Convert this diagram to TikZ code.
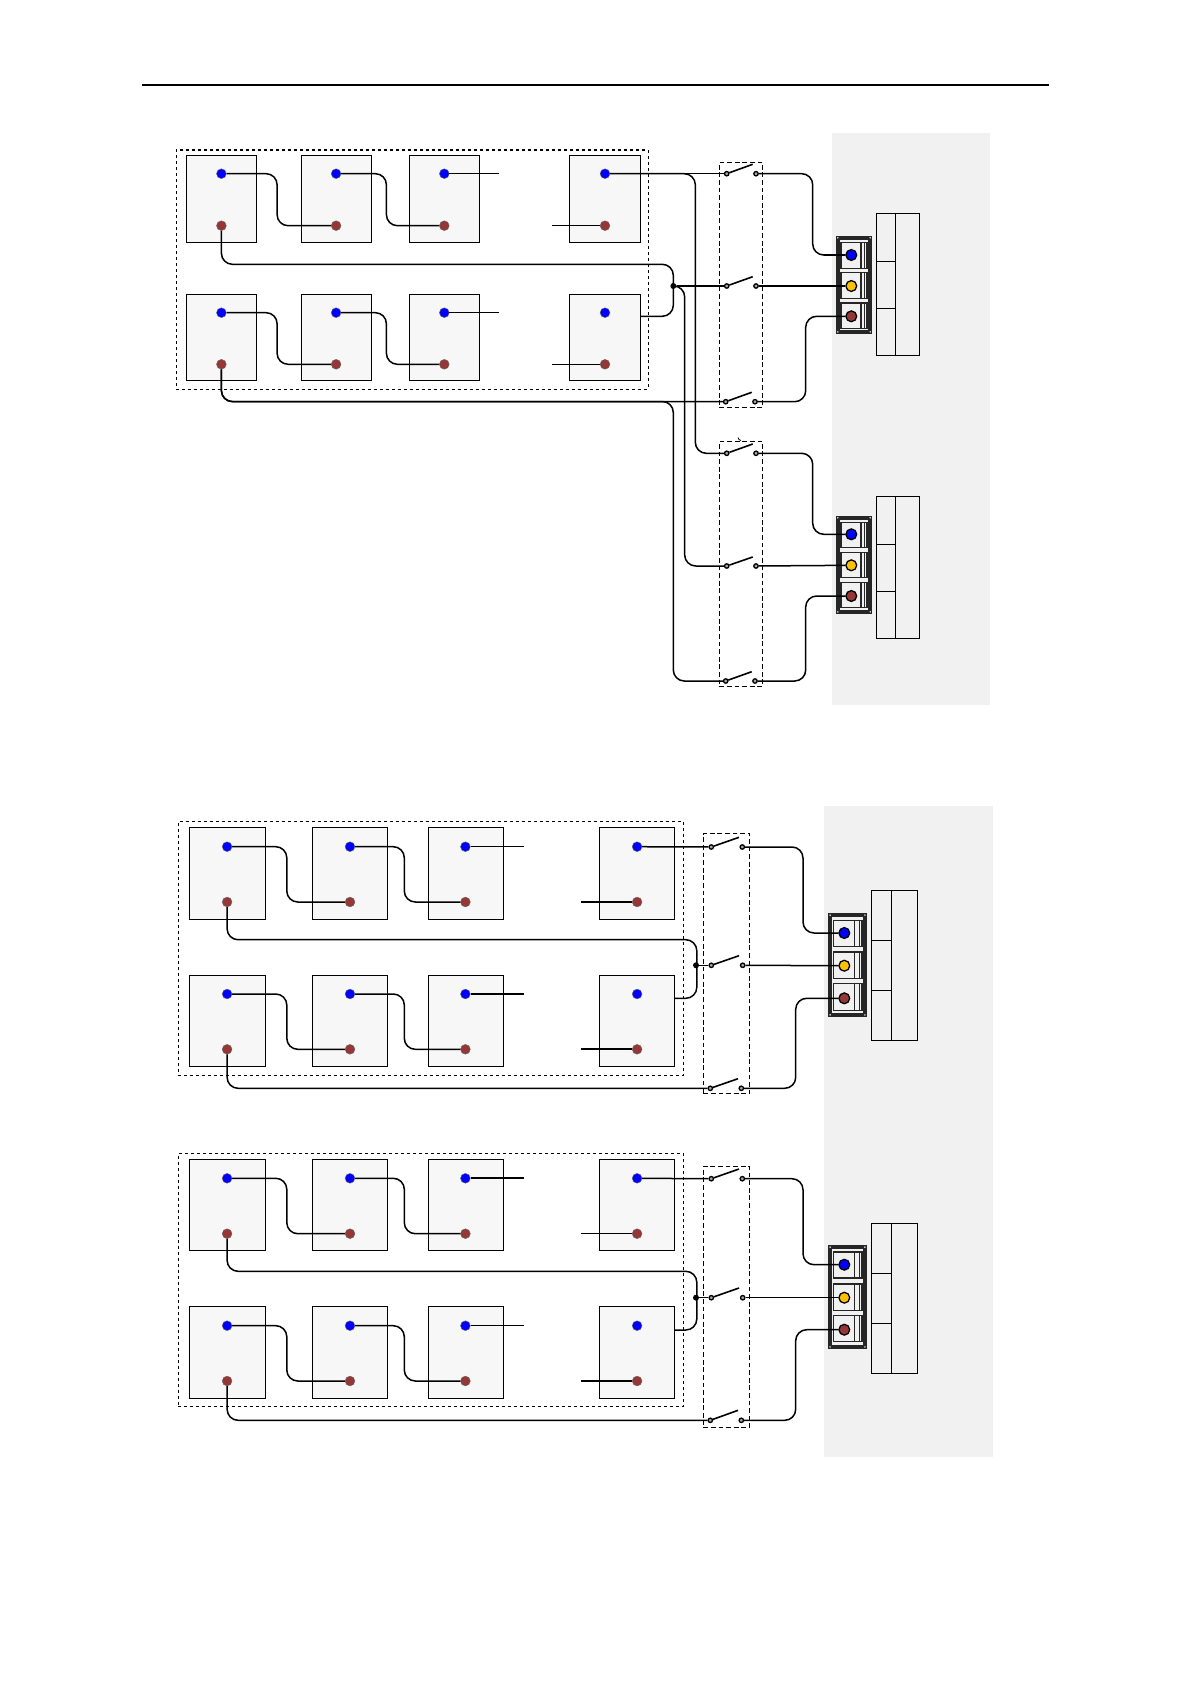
\documentclass[tikz,border=0pt]{standalone}
\usepackage{tikz}
\usetikzlibrary{calc}

\definecolor{panelgray}{HTML}{F1F1F1}
\definecolor{cellgray}{HTML}{F7F7F7}
\definecolor{plusblue}{HTML}{0000FF}
\definecolor{minusbrown}{HTML}{953735}
\definecolor{midyellow}{HTML}{FFC000}
\definecolor{blockdark}{HTML}{262626}

\tikzset{
	cellbox/.style={draw=black, fill=cellgray, line width=0.65pt},
	groupbox/.style={draw=black, line width=0.55pt, dash pattern=on 1.5pt off 1.5pt},
	switchbox/.style={draw=black, line width=0.55pt, dash pattern=on 2.4pt off 1.4pt},
	panel/.style={fill=panelgray, draw=none},
	post/.style={circle, inner sep=0pt, minimum size=4.9pt, draw=black!60, line width=0.2pt},
	lugpost/.style={circle, inner sep=0pt, minimum size=5.4pt, draw=black, line width=0.65pt},
	contact/.style={circle, inner sep=0pt, minimum size=2.2pt, draw=black, fill=gray!70, line width=0.65pt},
	joint/.style={circle, inner sep=0pt, minimum size=3pt, fill=black},
	wire/.style={draw=black, line width=0.75pt, rounded corners=5.5pt},
	thinstub/.style={draw=black, line width=0.55pt},
	thickstub/.style={draw=black, line width=1.1pt},
	tablebox/.style={draw=black, line width=0.65pt, fill=panelgray},
	blockouter/.style={draw=blockdark, fill=panelgray, line width=1.8pt},
	blockcell/.style={draw=blockdark, fill=panelgray, line width=0.7pt}
}

% rectangle node from its two corners
\newcommand{\boxnode}[6]{
	\node[#1, inner sep=0pt, outer sep=0pt, minimum width={((#5)-(#3))*0.5pt}, minimum height={((#6)-(#4))*0.5pt}] (#2) at ({(#3+#5)/2},{(#4+#6)/2}) {};
}

\begin{document}
\begin{tikzpicture}[x=0.5pt, y=-0.5pt]
	\useasboundingbox (0,0) rectangle (1191,1685);
	\draw[line width=0.9pt] (142,84.7) -- (1049,84.7);
	
	% grey panels
	\boxnode{panel}{panelTop}{832}{133}{990}{705}
	\boxnode{panel}{panelLow}{824}{806}{993}{1457}
	
	% battery groups
	\boxnode{groupbox}{groupTop}{176.4}{150}{648.2}{389.3}
	\boxnode{groupbox}{groupMid}{178.2}{821.3}{683.6}{1075.3}
	\boxnode{groupbox}{groupLow}{178.2}{1153.7}{683.6}{1406.3}
	
	\foreach \r/\yt/\yb/\yp/\yn in {A/155.3/242.3/173.7/225.7, B/294.3/380.3/312.7/364.3}
	\foreach \c/\xl/\xr/\xm in {1/186.4/256.8/221.4, 2/301.4/371.8/336.1, 3/409.3/479.6/444.3, 4/569.3/640.7/605} {
		\boxnode{cellbox}{box\r\c}{\xl}{\yt}{\xr}{\yb}
		\node[post, fill=plusblue] (pos\r\c) at (\xm,\yp) {};
		\node[post, fill=minusbrown] (neg\r\c) at (\xm,\yn) {};
	}
	\foreach \r/\yt/\yb/\yp/\yn in {C/827.3/919.3/846.7/902, D/975.3/1066.3/994/1049.3, E/1159.3/1250.3/1178.3/1233.7, F/1306.3/1398.3/1325.7/1381}
	\foreach \c/\xl/\xr/\xm in {1/189.3/265.7/227.1, 2/312.5/387.5/350, 3/428.2/503.6/465.4, 4/599.3/674.6/637.1} {
		\boxnode{cellbox}{box\r\c}{\xl}{\yt}{\xr}{\yb}
		\node[post, fill=plusblue] (pos\r\c) at (\xm,\yp) {};
		\node[post, fill=minusbrown] (neg\r\c) at (\xm,\yn) {};
	}
	
	% links between the batteries
	\foreach \r in {A,B} {
		\draw[wire] (pos\r1) -| (277.1,0 |- neg\r2) -- (neg\r2);
		\draw[wire] (pos\r2) -| (386.4,0 |- neg\r3) -- (neg\r3);
	}
	\foreach \r in {C,D,E,F} {
		\draw[wire] (pos\r1) -| (286.8,0 |- neg\r2) -- (neg\r2);
		\draw[wire] (pos\r2) -| (404.3,0 |- neg\r3) -- (neg\r3);
	}
	
	% open ends of the strings
	\foreach \r/\xa/\xb/\sa/\sb in {A/498.6/552.1/thinstub/thinstub, B/498.6/552.1/thinstub/thinstub, C/523.6/581.1/thinstub/thickstub, D/523.6/581.1/thickstub/thickstub, E/523.6/581.1/thickstub/thinstub, F/523.6/581.1/thinstub/thickstub} {
		\coordinate (endPos\r) at (\xa,0 |- pos\r3);
		\coordinate (endNeg\r) at (\xb,0 |- neg\r4);
		\draw[\sa] (pos\r3) -- (endPos\r);
		\draw[\sb] (neg\r4) -- (endNeg\r);
	}
	
	% switches
	\boxnode{switchbox}{switchA}{719.3}{162.3}{762.7}{407.3}
	\boxnode{switchbox}{switchB}{719.3}{441.3}{762.7}{686.3}
	\boxnode{switchbox}{switchC}{703.3}{833.3}{749.7}{1093.7}
	\boxnode{switchbox}{switchD}{703.3}{1166.3}{749.7}{1427.3}
	\draw[line width=0.4pt] (738,437.5) -- (739,439.5) -- (741,440.5);
	
	\foreach \s/\xl/\xr/\y/\xe/\ye in {
		A1/726.7/756/173.7/752.7/164.3, A2/726.7/756/286/752.7/276.7, A3/725.7/755/401.7/751.7/392.3,
		B1/726.7/756/453.3/752.7/444, B2/726.7/756/566/752.7/557, B3/725.7/755/681/751.7/671.7,
		C1/711.3/742.3/847/739/837.3, C2/711.3/742.7/965.3/739/955.7, C3/710.3/741.3/1088.3/738/1078.7,
		D1/711.3/742.3/1178.7/739/1169, D2/711.3/742.7/1297.7/739/1288, D3/710.3/741.3/1420.3/738/1410.3} {
		\node[contact] (sw\s l) at (\xl,\y) {};
		\node[contact] (sw\s r) at (\xr,\y) {};
		\coordinate (blade\s) at (\xe,\ye);
		\draw[line width=0.8pt] (sw\s l) -- (blade\s);
	}
	
	% terminal blocks
	\foreach \b/\xl/\xr/\yt/\yb/\cl/\cr/\ba/\bb/\cx/\ta/\tb/\tc/\td/\te/\tf/\ya/\yc/\ye in {
		A/836/872/236/333.7/841/867/861/864.8/851.3/242.3/268.3/272.7/298.3/303/328.3/255/286/316.3,
		B/836/872/516/613.7/841/867/861/864.8/851.3/522.3/547.7/552.3/577.7/582.3/607.7/534.3/565.3/596,
		C/828.3/866.7/913.3/1016.7/833.3/862/854.5/859.8/844.3/920.7/946.3/952/978.3/983.7/1010.3/933/965.7/998.3,
		D/828.3/866.7/1245.3/1348.7/833.3/862/854.5/859.8/844.3/1252/1278/1284/1310.3/1315.7/1341.7/1264.7/1297.7/1329.7} {
		\boxnode{blockouter}{block\b}{\xl+1.8}{\yt+1.8}{\xr-1.8}{\yb-1.8}
		\foreach \px/\py in {\xl+1.8/\yt+1.8, \xr-1.8/\yt+1.8, \xl+1.8/\yb-1.8, \xr-1.8/\yb-1.8}
			\fill[white] (\px,\py) circle (0.4pt);
		\boxnode{blockcell}{lug\b1}{\cl}{\ta}{\cr}{\tb}
		\boxnode{blockcell}{lug\b2}{\cl}{\tc}{\cr}{\td}
		\boxnode{blockcell}{lug\b3}{\cl}{\te}{\cr}{\tf}
		\foreach \n in {1,2,3} {
			\draw[blockdark, line width=0.8pt] (\ba,0 |- lug\b\n.north) -- (\ba,0 |- lug\b\n.south);
			\draw[blockdark, line width=0.6pt] (\bb,0 |- lug\b\n.north) -- (\bb,0 |- lug\b\n.south);
		}
		\node[lugpost, fill=plusblue] (lead\b1) at (\cx,\ya) {};
		\node[lugpost, fill=midyellow] (lead\b2) at (\cx,\yc) {};
		\node[lugpost, fill=minusbrown] (lead\b3) at (\cx,\ye) {};
	}
	
	% tables
	\foreach \t/\xa/\xb/\xc/\ya/\yb/\yc/\yd in {A/876.3/895.7/919.3/213.3/261.3/308.3/355.3, B/876.3/895.7/919.3/496.3/544.3/591.3/638.3, C/871.3/891.7/917.7/890.3/940.3/990.3/1040.3, D/871.3/891.7/917.7/1223.3/1273.3/1323.3/1373.3} {
		\boxnode{tablebox}{tab\t a}{\xa}{\ya}{\xb}{\yb}
		\boxnode{tablebox}{tab\t b}{\xa}{\yb}{\xb}{\yc}
		\boxnode{tablebox}{tab\t c}{\xa}{\yc}{\xb}{\yd}
		\boxnode{tablebox}{tab\t d}{\xb}{\ya}{\xc}{\yd}
	}
	
	% wiring of the upper picture
	\coordinate (tapB) at (640.7,316.3);
	\node[joint] (jointA) at (673.3,286) {};
	\draw[wire] (negA1) |- (673.3,264.3) -- (673.3,316.3) -- (tapB);
	\draw[wire] (jointA) -- (swA2l);
	\draw[wire] (jointA) -- (684.7,286) -- (684.7,566) -- (swB2l);
	\draw[wire] (posA4) -- (swA1l);
	\draw[wire] (posA4) -- (695.3,173.7) -- (695.3,453.3) -- (swB1l);
	\draw[wire] (negB1) |- (swA3l);
	\draw[wire] (negB1) |- (673.3,401.5) -- (673.3,681) -- (swB3l);
	
	\foreach \s/\xb/\xc in {A/812.7/805.7, B/812.7/805.7, C/803/795.7, D/803/795.7} {
		\draw[wire] (sw\s1r) -| (\xb,0 |- lead\s1) -- (lead\s1);
		\draw[wire] (sw\s2r) -- (lead\s2);
		\draw[wire] (sw\s3r) -| (\xc,0 |- lead\s3) -- (lead\s3);
	}
	
	% wiring of the two lower pictures
	\foreach \u/\v/\s/\ya/\yb/\yc in {C/D/C/939.7/965.3/998.3, E/F/D/1271.3/1297.7/1330} {
		\coordinate (tap\v) at (674.6,\yc);
		\node[joint] (joint\s) at (696,\yb) {};
		\draw[wire] (neg\u1) |- (696.8,\ya) -- (696.8,\yc) -- (tap\v);
		\draw[wire] (joint\s) -- (sw\s2l);
		\draw[wire] (pos\u4) -- (sw\s1l);
		\draw[wire] (neg\v1) |- (sw\s3l);
	}
\end{tikzpicture}
\end{document}
